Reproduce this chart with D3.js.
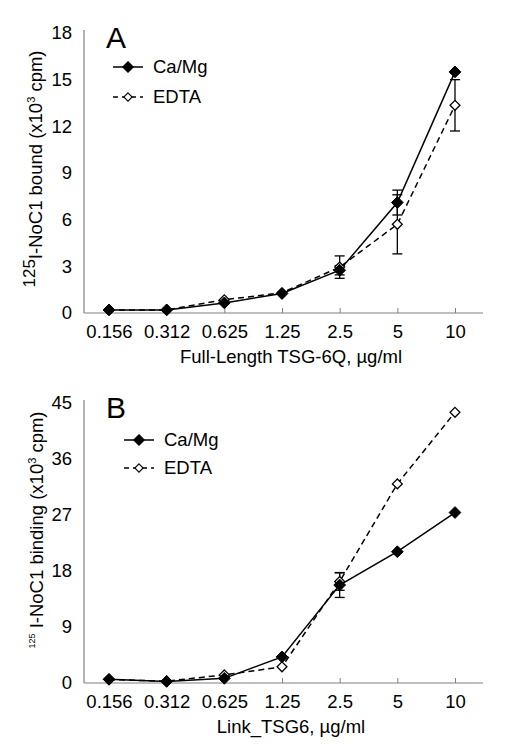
<!DOCTYPE html>
<html><head><meta charset="utf-8">
<script src="https://cdn.jsdelivr.net/npm/d3@7/dist/d3.min.js"></script>
<style>
body{margin:0;background:#fff;}
svg{display:block;font-family:"Liberation Sans",Arial,sans-serif;}
</style></head>
<body>
<svg id="chart" width="517" height="755"></svg>
<script>
// ---- data ----
const categories = ["0.156","0.312","0.625","1.25","2.5","5","10"];
const seriesNames = ["Ca/Mg","EDTA"];

const aCaMg    = [0.2, 0.2, 0.65, 1.25, 2.75, 7.1, 15.5];
const aCaMgErr = [0, 0, 0, 0, 0.3, 0.8, 0];
const aEDTA    = [0.2, 0.2, 0.85, 1.3, 2.95, 5.7, 13.35];
const aEDTAErr = [0, 0, 0, 0, 0.72, 1.9, 1.65];
const aTicks   = [0, 3, 6, 9, 12, 15, 18];

const bCaMg    = [0.6, 0.25, 0.75, 4.2, 15.75, 21.1, 27.4];
const bCaMgErr = [0, 0, 0, 0, 2.0, 0, 0];
const bEDTA    = [0.55, 0.3, 1.3, 2.6, 16.3, 32.0, 43.5];
const bEDTAErr = [0, 0, 0, 0, 1.4, 0, 0];
const bTicks   = [0, 9, 18, 27, 36, 45];

const svg = d3.select("#chart");
const FONT = 18.5;

function panel(cfg){
  const g = svg.append("g");
  const x = d3.scalePoint().domain(categories).range([cfg.left + 25, cfg.right - 28]);
  const y = d3.scaleLinear().domain([0, cfg.ticks[cfg.ticks.length-1]]).range([cfg.bottom, cfg.top]);

  // axes lines
  g.append("line").attr("x1", cfg.left).attr("x2", cfg.left)
    .attr("y1", cfg.top - 3).attr("y2", cfg.bottom).attr("stroke", "#808080").attr("stroke-width", 1.2);
  g.append("line").attr("x1", cfg.left).attr("x2", cfg.right)
    .attr("y1", cfg.bottom).attr("y2", cfg.bottom).attr("stroke", "#808080").attr("stroke-width", 1.2);

  const ya = g.append("g").attr("transform", `translate(${cfg.left},0)`)
    .call(d3.axisLeft(y).tickValues(cfg.ticks).tickSize(0).tickPadding(12));
  ya.select(".domain").remove();
  ya.selectAll("text").attr("font-size", FONT).attr("fill", "#000").attr("font-family", null);

  const xa = g.append("g").attr("transform", `translate(0,${cfg.bottom})`)
    .call(d3.axisBottom(x).tickSize(-5).tickPadding(0));
  xa.select(".domain").remove();
  xa.selectAll(".tick line").attr("stroke", "#808080");
  xa.selectAll("text").attr("font-size", FONT).attr("fill", "#000").attr("font-family", null)
    .attr("dy", null).attr("y", 25);

  // x title
  g.append("text").attr("x", 291).attr("y", cfg.bottom + 50).attr("text-anchor", "middle")
    .attr("font-size", FONT).text(cfg.xTitle);

  // y title
  const yt = g.append("text").attr("transform", `translate(${cfg.yTitleX},${cfg.yTitleY}) rotate(-90)`)
    .attr("text-anchor", "middle").attr("font-size", FONT);
  yt.append("tspan").attr("font-size", cfg.supSize).attr("dy", -cfg.supShift).text("125");
  yt.append("tspan").attr("dy", cfg.supShift).text(cfg.yTitleMain);
  yt.append("tspan").attr("font-size", 11).attr("dy", -7).text("3");
  yt.append("tspan").attr("dy", 7).text(cfg.yTitleEnd);

  // panel letter
  g.append("text").attr("x", cfg.left + 22).attr("y", cfg.top + 15).attr("font-size", 30).text(cfg.letter);

  const line = d3.line().x((d,i) => x(categories[i])).y(d => y(d));

  // error bars
  function errs(vals, err){
    vals.forEach((v,i) => {
      if (!err[i]) return;
      const cx = x(categories[i]);
      const y1 = y(v + err[i]), y2 = y(v - err[i]);
      g.append("line").attr("x1", cx).attr("x2", cx).attr("y1", y1).attr("y2", y2).attr("stroke", "#000").attr("stroke-width", 1.3);
      [y1, y2].forEach(yy => g.append("line").attr("x1", cx - 5).attr("x2", cx + 5).attr("y1", yy).attr("y2", yy).attr("stroke", "#000").attr("stroke-width", 1.3));
    });
  }
  errs(cfg.edta, cfg.edtaErr);
  errs(cfg.ca, cfg.caErr);

  g.append("path").datum(cfg.edta).attr("d", line).attr("fill", "none")
    .attr("stroke", "#000").attr("stroke-width", 1.5).attr("stroke-dasharray", "6,4");
  g.append("path").datum(cfg.ca).attr("d", line).attr("fill", "none")
    .attr("stroke", "#000").attr("stroke-width", 1.5);

  const diamond = d3.symbol().type(d3.symbolDiamond2);
  g.selectAll(".me").data(cfg.edta).enter().append("path")
    .attr("d", diamond.size(62)())
    .attr("transform", (d,i) => `translate(${x(categories[i])},${y(d)})`)
    .attr("fill", "#fff").attr("stroke", "#000").attr("stroke-width", 1.3);
  g.selectAll(".mc").data(cfg.ca).enter().append("path")
    .attr("d", diamond.size(88)())
    .attr("transform", (d,i) => `translate(${x(categories[i])},${y(d)})`)
    .attr("fill", "#000").attr("stroke", "#000").attr("stroke-width", 1);

  // legend
  seriesNames.forEach((name, k) => {
    const ly = cfg.legY + k * cfg.legGap;
    const lx = cfg.legX;
    g.append("line").attr("x1", lx - 15).attr("x2", lx + 15).attr("y1", ly).attr("y2", ly)
      .attr("stroke", "#000").attr("stroke-width", 1.5).attr("stroke-dasharray", k ? "5,4" : null);
    g.append("path").attr("d", diamond.size(k ? 45 : 70)())
      .attr("transform", `translate(${lx},${ly})`)
      .attr("fill", k ? "#fff" : "#000").attr("stroke", "#000").attr("stroke-width", 1.1);
    g.append("text").attr("x", lx + 25).attr("y", ly + 6).attr("font-size", FONT).text(name);
  });
}

panel({
  left: 84, right: 483, top: 33, bottom: 313, ticks: aTicks, letter: "A",
  ca: aCaMg, caErr: aCaMgErr, edta: aEDTA, edtaErr: aEDTAErr,
  xTitle: "Full-Length TSG-6Q, \u00b5g/ml",
  yTitleX: 42, yTitleY: 169, supSize: 17, supShift: 7,
  yTitleMain: "I-NoC1 bound (x10", yTitleEnd: " cpm)",
  legX: 128, legY: 67, legGap: 30
});
panel({
  left: 84, right: 483, top: 403, bottom: 683, ticks: bTicks, letter: "B",
  ca: bCaMg, caErr: bCaMgErr, edta: bEDTA, edtaErr: bEDTAErr,
  xTitle: "Link_TSG6, \u00b5g/ml",
  yTitleX: 43, yTitleY: 530, supSize: 9, supShift: 8,
  yTitleMain: " I-NoC1 binding (x10", yTitleEnd: " cpm)",
  legX: 139, legY: 440, legGap: 28
});
</script>
</body></html>
